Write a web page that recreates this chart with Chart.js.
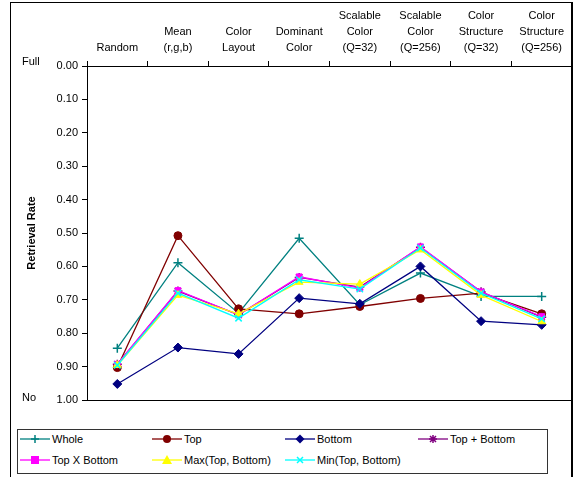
<!DOCTYPE html>
<html>
<head>
<meta charset="utf-8">
<script src="https://cdn.jsdelivr.net/npm/chart.js@4/dist/chart.umd.min.js"></script>
<style>
  html, body { margin: 0; padding: 0; background: #fff; }
  body { width: 578px; height: 477px; position: relative; overflow: hidden; font-family: "Liberation Sans", Arial, sans-serif; }
  #frame { position: absolute; left: 10px; top: 2px; width: 560px; height: 490px; border-left: 1px solid #000; border-top: 1px solid #000; border-right: 2px solid #000; }
  #c { position: absolute; left: 0; top: 0; }
  #legend { position: absolute; left: 17px; top: 429px; width: 529px; height: 43px; border: 1px solid #333; background: #fff; }
  .item { position: absolute; height: 16px; display: flex; align-items: center; font-size: 11px; color: #000; white-space: nowrap; }
  .item svg { margin-right: 2px; }
</style>
</head>
<body>
<div id="frame"></div>
<canvas id="c" width="578" height="477"></canvas>
<div id="legend"></div>
<script>
const categories = [
  ["Random"],
  ["Mean", "(r,g,b)"],
  ["Color", "Layout"],
  ["Dominant", "Color"],
  ["Scalable", "Color", "(Q=32)"],
  ["Scalable", "Color", "(Q=256)"],
  ["Color", "Structure", "(Q=32)"],
  ["Color", "Structure", "(Q=256)"]
];
const seriesNames = ["Whole", "Top", "Bottom", "Top + Bottom", "Top X Bottom", "Max(Top, Bottom)", "Min(Top, Bottom)"];
const wholeVals      = [0.845, 0.589, 0.740, 0.516, 0.715, 0.620, 0.690, 0.690];
const topVals        = [0.903, 0.508, 0.727, 0.742, 0.720, 0.696, 0.680, 0.742];
const bottomVals     = [0.952, 0.843, 0.862, 0.695, 0.712, 0.600, 0.764, 0.775];
const topPlusBotVals = [0.893, 0.674, 0.745, 0.633, 0.662, 0.543, 0.676, 0.752];
const topXBotVals    = [0.893, 0.672, 0.745, 0.631, 0.665, 0.541, 0.676, 0.750];
const maxTBVals      = [0.896, 0.686, 0.742, 0.647, 0.653, 0.550, 0.686, 0.765];
const minTBVals      = [0.896, 0.680, 0.755, 0.640, 0.668, 0.545, 0.680, 0.757];
const yTicks = [0, 0.1, 0.2, 0.3, 0.4, 0.5, 0.6, 0.7, 0.8, 0.9, 1.0];

const seriesData = [wholeVals, topVals, bottomVals, topPlusBotVals, topXBotVals, maxTBVals, minTBVals];
const colors = ["#008080", "#800000", "#000080", "#800080", "#FF00FF", "#FFFF00", "#00FFFF"];
const styles = ["cross", "circle", "rectRot", "star", "rect", "triangle", "crossRot"];
const radii = [4.5, 4, 4.5, 4.5, 4, 4.5, 4.5];

const FONT = '"Liberation Sans", Arial, sans-serif';

const datasets = seriesData.map((d, i) => ({
  label: seriesNames[i],
  data: d,
  borderColor: colors[i],
  backgroundColor: colors[i],
  pointBackgroundColor: colors[i],
  pointBorderColor: colors[i],
  pointStyle: styles[i],
  pointRadius: radii[i],
  pointBorderWidth: (styles[i] === "cross" || styles[i] === "crossRot" || styles[i] === "star") ? 1.5 : 1,
  borderWidth: 1.3,
  tension: 0,
  fill: false,
  order: 7 - i
}));

const extras = {
  id: "extras",
  afterDraw(chart) {
    const ctx = chart.ctx;
    const a = chart.chartArea;
    const y = chart.scales.y;
    ctx.save();
    ctx.strokeStyle = "#000";
    ctx.lineWidth = 1;
    ctx.beginPath();
    ctx.moveTo(a.left, Math.round(a.bottom) + 0.5);
    ctx.lineTo(a.right, Math.round(a.bottom) + 0.5);
    ctx.stroke();
    ctx.fillStyle = "#000";
    ctx.font = "11px " + FONT;
    ctx.textAlign = "left";
    ctx.textBaseline = "middle";
    ctx.fillText("Full", 22, y.getPixelForValue(0) - 4);
    ctx.fillText("No", 22, y.getPixelForValue(1) - 2);
    ctx.font = "bold 11px " + FONT;
    ctx.translate(32, (a.top + a.bottom) / 2);
    ctx.rotate(-Math.PI / 2);
    ctx.textAlign = "center";
    ctx.fillText("Retrieval Rate", 0, 0);
    ctx.restore();
  }
};

new Chart(document.getElementById("c"), {
  type: "line",
  data: { labels: categories, datasets },
  options: {
    responsive: false,
    animation: false,
    events: [],
    layout: { padding: { left: 0, top: 0, right: 6, bottom: 77 } },
    plugins: { legend: { display: false }, tooltip: { enabled: false } },
    scales: {
      x: {
        type: "category",
        position: "top",
        offset: true,
        grid: { offset: true, drawOnChartArea: false, drawTicks: true, tickLength: 5, color: "#000", lineWidth: 1 },
        border: { color: "#000", width: 1 },
        ticks: { color: "#000", font: { family: FONT, size: 11, lineHeight: 1.45 }, padding: 5, maxRotation: 0, minRotation: 0, autoSkip: false },
        afterFit(s) { s.height = 66; }
      },
      y: {
        type: "linear",
        reverse: true,
        min: 0,
        max: 1,
        afterBuildTicks(s) { s.ticks = yTicks.map(v => ({ value: v })); },
        grid: { drawOnChartArea: false, drawTicks: true, tickLength: 5, color: "#000", lineWidth: 1 },
        border: { color: "#000", width: 1 },
        ticks: { color: "#000", font: { family: FONT, size: 11 }, padding: 4, callback: v => Number(v).toFixed(2) },
        afterFit(s) { s.width = 87; }
      }
    }
  },
  plugins: [extras]
});

// HTML legend
function markerSvg(style, color) {
  const cx = 15, cy = 6, r = 4;
  let m = "";
  if (style === "cross") m = `<path d="M${cx-r} ${cy}H${cx+r}M${cx} ${cy-r}V${cy+r}" stroke="${color}" stroke-width="1.5"/>`;
  else if (style === "circle") m = `<circle cx="${cx}" cy="${cy}" r="4" fill="${color}"/>`;
  else if (style === "rectRot") m = `<path d="M${cx} ${cy-4.5}L${cx+4.5} ${cy}L${cx} ${cy+4.5}L${cx-4.5} ${cy}Z" fill="${color}"/>`;
  else if (style === "star") m = `<path d="M${cx-r} ${cy}H${cx+r}M${cx} ${cy-r}V${cy+r}M${cx-3} ${cy-3}L${cx+3} ${cy+3}M${cx-3} ${cy+3}L${cx+3} ${cy-3}" stroke="${color}" stroke-width="1.5"/>`;
  else if (style === "rect") m = `<rect x="${cx-4}" y="${cy-4}" width="8" height="8" fill="${color}"/>`;
  else if (style === "triangle") m = `<path d="M${cx} ${cy-5}L${cx+5} ${cy+4}L${cx-5} ${cy+4}Z" fill="${color}"/>`;
  else if (style === "crossRot") m = `<path d="M${cx-3} ${cy-3}L${cx+3} ${cy+3}M${cx-3} ${cy+3}L${cx+3} ${cy-3}" stroke="${color}" stroke-width="1.5"/>`;
  return `<svg width="30" height="12" viewBox="0 0 30 12"><line x1="0" y1="6" x2="30" y2="6" stroke="${color}" stroke-width="1.3"/>${m}</svg>`;
}
const legend = document.getElementById("legend");
const colX = [2, 134, 267, 400];
seriesNames.forEach((name, i) => {
  const row = Math.floor(i / 4), col = i % 4;
  const div = document.createElement("div");
  div.className = "item";
  div.style.left = colX[col] + "px";
  div.style.top = (row === 0 ? 1 : 22) + "px";
  div.innerHTML = markerSvg(styles[i], colors[i]) + "<span>" + name + "</span>";
  legend.appendChild(div);
});
</script>
</body>
</html>
